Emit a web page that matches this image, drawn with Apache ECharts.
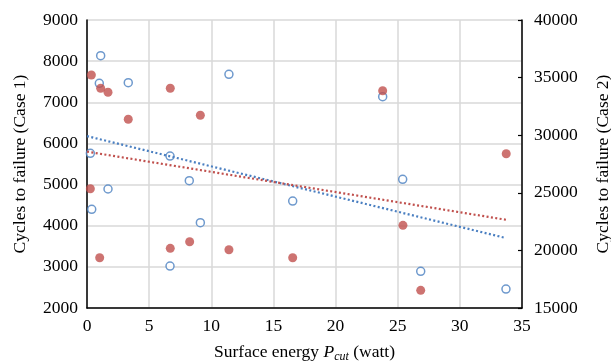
<!DOCTYPE html>
<html><head><meta charset="utf-8">
<script src="https://cdn.jsdelivr.net/npm/echarts@6/dist/echarts.min.js"></script>
<style>html,body{margin:0;padding:0;background:#fff}#c{width:611px;height:362px}</style>
</head><body><div id="c"></div>
<script>
// Case 1 (left axis, hollow blue circles)
const case1X = [0.27, 0.38, 0.99, 1.1, 1.69, 3.32, 6.68, 6.68, 8.23, 9.12, 11.42, 16.55, 23.79, 25.4, 26.85, 33.71];
const case1Y = [5760, 4398, 7461, 8132, 4892, 7476, 5694, 3020, 5094, 4073, 7680, 4600, 7135, 5127, 2891, 2461];
// Case 2 (right axis, filled red circles)
const case2X = [0.35, 0.27, 1.02, 1.1, 1.69, 3.32, 6.7, 6.7, 8.26, 9.12, 11.42, 16.55, 23.79, 25.42, 26.85, 33.73];
const case2Y = [35226, 25355, 19365, 34071, 33724, 31380, 34071, 20181, 20755, 31727, 20060, 19365, 33863, 22178, 16535, 28394];

function fit(xs, ys) {
  const n = xs.length;
  const mx = xs.reduce((a, b) => a + b, 0) / n;
  const my = ys.reduce((a, b) => a + b, 0) / n;
  let sxy = 0, sxx = 0;
  for (let i = 0; i < n; i++) { sxy += (xs[i] - mx) * (ys[i] - my); sxx += (xs[i] - mx) ** 2; }
  const b = sxy / sxx, a = my - b * mx;
  const xmax = Math.max(...xs);
  return [[0, a], [xmax, a + b * xmax]];
}
const pairs = (xs, ys) => xs.map((x, i) => [x, ys[i]]);
const plain = v => String(v);

const font = 'Liberation Serif';
const fs = 17.5;
const chart = echarts.init(document.getElementById('c'));
chart.setOption({
  animation: false,
  textStyle: { fontFamily: font },
  grid: { left: 87, right: 89, top: 20, bottom: 54, containLabel: false, outerBoundsMode: 'none' },
  xAxis: {
    type: 'value', min: 0, max: 35, interval: 5,
    axisLine: { lineStyle: { color: '#000', width: 1.5 } },
    axisTick: { show: false },
    axisLabel: { color: '#000', fontSize: fs, fontFamily: font, margin: 9, formatter: plain },
    splitLine: { lineStyle: { color: '#d9d9d9', width: 1.5 } },
    name: '{n|Surface energy }{i|P}{s|cut}{n| (watt)}',
    nameLocation: 'middle', nameGap: 33,
    nameTextStyle: {
      rich: {
        n: { fontSize: fs, fontFamily: font, color: '#000' },
        i: { fontSize: fs, fontFamily: font, fontStyle: 'italic', color: '#000' },
        s: { fontSize: 12, fontFamily: font, fontStyle: 'italic', color: '#000', padding: [10, 0, 0, 0] }
      }
    }
  },
  yAxis: [{
    type: 'value', min: 2000, max: 9000, interval: 1000,
    axisLine: { show: true, lineStyle: { color: '#000', width: 1.5 } },
    axisTick: { show: false },
    axisLabel: { color: '#000', fontSize: fs, fontFamily: font, margin: 9, formatter: plain },
    splitLine: { lineStyle: { color: '#d9d9d9', width: 1.5 } },
    name: 'Cycles to failure (Case 1)', nameLocation: 'middle', nameGap: 58,
    nameTextStyle: { fontSize: fs, fontFamily: font, color: '#000' }
  }, {
    type: 'value', min: 15000, max: 40000, interval: 5000, position: 'right',
    axisLine: { show: true, lineStyle: { color: '#000', width: 1.5 } },
    axisTick: { show: true, inside: true, length: 4, lineStyle: { color: '#000', width: 1.2 } },
    axisLabel: { color: '#000', fontSize: fs, fontFamily: font, margin: 12, formatter: plain },
    splitLine: { show: false },
    name: 'Cycles to failure (Case 2)', nameLocation: 'middle', nameGap: 72,
    nameTextStyle: { fontSize: fs, fontFamily: font, color: '#000' }
  }],
  series: [{
    type: 'line', yAxisIndex: 0, data: fit(case1X, case1Y), symbol: 'none', silent: true,
    lineStyle: { color: '#4a7fc1', width: 2.2, type: [2, 2.4] }
  }, {
    type: 'line', yAxisIndex: 1, data: fit(case2X, case2Y), symbol: 'none', silent: true,
    lineStyle: { color: '#c0504d', width: 2.2, type: [2, 2.4] }
  }, {
    type: 'scatter', yAxisIndex: 0, data: pairs(case1X, case1Y), symbol: 'circle', symbolSize: 8,
    itemStyle: { color: '#fff', borderColor: '#4a7fc1', borderWidth: 1.5 }
  }, {
    type: 'scatter', yAxisIndex: 1, data: pairs(case2X, case2Y), symbol: 'circle', symbolSize: 9,
    itemStyle: { color: '#c0504d' }
  }]
});
</script></body></html>
